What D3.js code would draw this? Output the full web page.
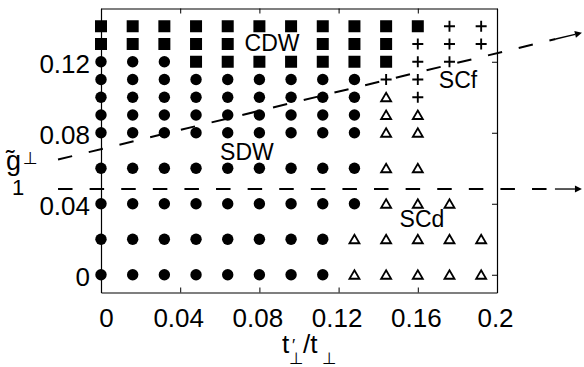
<!DOCTYPE html>
<html>
<head>
<meta charset="utf-8">
<script src="https://cdn.jsdelivr.net/npm/d3@7"></script>
<style>
  body { margin: 0; background: #fff; }
  svg { display: block; font-family: "Liberation Sans", Arial, sans-serif; }
</style>
</head>
<body>
<script>
"use strict"

// grid of t'/t values (columns) and g1 values (rows)
var colX = [0, 0.016, 0.032, 0.048, 0.064, 0.08, 0.096, 0.112, 0.128, 0.144, 0.16, 0.176, 0.192];
var rowY = [0.14, 0.13, 0.12, 0.11, 0.10, 0.09, 0.08, 0.06, 0.04, 0.02, 0];
// phase per point, one string per row: S = CDW square, C = SDW circle,
// P = SCf plus, T = SCd triangle, . = no point
var rowPhases = [
  "SSSSSSSSSSSPP",
  "SSSSS..SSSPPP",
  "CCCSSSSSSSPP.",
  "CCCCCCCCCPP..",
  "CCCCCCCCCTP..",
  "CCCCCCCCCTT..",
  "CCCCCCCCCTT..",
  "CCCCCCCCCTT..",
  "CCCCCCCCCTTT.",
  "CCCCCCCCTTTTT",
  "CCCCCCCCTTTTT"
];

var xTicks = [0, 0.04, 0.08, 0.12, 0.16, 0.2];
var xTickLabels = ["0", "0.04", "0.08", "0.12", "0.16", "0.2"];
var yTicks = [0, 0.04, 0.08, 0.12];
var yTickLabels = ["0", "0.04", "0.08", "0.12"];

var phaseNames = ["CDW", "SDW", "SCf", "SCd"];
var phaseLabelX = [0.0864, 0.0737, 0.1803, 0.1621];
var phaseLabelY = [0.1306, 0.0694, 0.1097, 0.0314];

// dashed boundary arrows (start x, start y, end x, end y in data units)
var boundaryX0 = [-0.0217, -0.0217];
var boundaryY0 = [0.0649, 0.0483];
var boundaryX1 = [0.2429, 0.2429];
var boundaryY1 = [0.1364, 0.0483];

var width = 584, height = 367;
var perpFont = "'DejaVu Sans', sans-serif";

var svgContainer = d3.select("body").append("svg")
                                    .attr("width", width)
                                    .attr("height", height);

svgContainer.append("rect").attr("width", width).attr("height", height).attr("fill", "#fff");

var x = d3.scaleLinear().domain([0, 0.2]).range([101, 497]);
var y = d3.scaleLinear().domain([-0.01, 0.15]).range([292.5, 8.5]);

// build point list from the arrays
var points = [];
rowPhases.forEach(function(row, i) {
    row.split("").forEach(function(code, j) {
        if (code !== ".") points.push({x: colX[j], y: rowY[i], phase: code});
    });
});

// axes: ticks point inward on all four sides
var tickFont = 26;
var bottomAxis = d3.axisBottom(x).tickValues(xTicks)
                   .tickFormat(function(d, i) { return xTickLabels[i]; })
                   .tickSizeInner(-5).tickSizeOuter(0).tickPadding(16);
var topAxis = d3.axisTop(x).tickValues(xTicks).tickFormat("")
                .tickSizeInner(-5).tickSizeOuter(0);
var leftAxis = d3.axisLeft(y).tickValues(yTicks)
                 .tickFormat(function(d, i) { return yTickLabels[i]; })
                 .tickSizeInner(-5).tickSizeOuter(0).tickPadding(11);
var rightAxis = d3.axisRight(y).tickValues(yTicks).tickFormat("")
                  .tickSizeInner(-5).tickSizeOuter(0);

function styleAxis(g) {
    g.select(".domain").attr("stroke", "#000").attr("stroke-width", 1.2);
    g.selectAll(".tick line").attr("stroke", "#000").attr("stroke-width", 1);
    g.selectAll(".tick text").attr("fill", "#000")
     .attr("font-size", tickFont)
     .attr("font-family", "Liberation Sans, Arial, sans-serif");
}

svgContainer.append("g").attr("transform", "translate(0," + y.range()[0] + ")")
            .call(bottomAxis).call(styleAxis)
            .selectAll(".tick text").attr("dx", function(d) { return d === 0 ? "5" : "-2"; });
svgContainer.append("g").attr("transform", "translate(0," + y.range()[1] + ")")
            .call(topAxis).call(styleAxis);
svgContainer.append("g").attr("transform", "translate(" + x.range()[0] + ",0)")
            .call(leftAxis).call(styleAxis)
            .selectAll(".tick text").attr("dy", "0.4em");
svgContainer.append("g").attr("transform", "translate(" + x.range()[1] + ",0)")
            .call(rightAxis).call(styleAxis);

// markers
var marks = svgContainer.append("g");

marks.selectAll("circle").data(points.filter(function(d) { return d.phase === "C"; }))
     .enter().append("circle")
     .attr("cx", function(d) { return x(d.x); })
     .attr("cy", function(d) { return y(d.y); })
     .attr("r", 5.7)
     .attr("fill", "#000");

var sq = 12;
marks.selectAll("rect.cdw").data(points.filter(function(d) { return d.phase === "S"; }))
     .enter().append("rect").attr("class", "cdw")
     .attr("x", function(d) { return x(d.x) - sq / 2; })
     .attr("y", function(d) { return y(d.y) - sq / 2; })
     .attr("width", sq)
     .attr("height", sq)
     .attr("fill", "#000");

marks.selectAll("path.scf").data(points.filter(function(d) { return d.phase === "P"; }))
     .enter().append("path").attr("class", "scf")
     .attr("transform", function(d) { return "translate(" + x(d.x) + "," + y(d.y) + ")"; })
     .attr("d", "M-5.5,0H5.5M0,-5.5V5.5")
     .attr("stroke", "#000")
     .attr("stroke-width", 1.9)
     .attr("fill", "none");

marks.selectAll("path.scd").data(points.filter(function(d) { return d.phase === "T"; }))
     .enter().append("path").attr("class", "scd")
     .attr("transform", function(d) { return "translate(" + x(d.x) + "," + y(d.y) + ")"; })
     .attr("d", "M0,-4.5L5,4L-5,4Z")
     .attr("stroke", "#000")
     .attr("stroke-width", 1.8)
     .attr("stroke-linejoin", "miter")
     .attr("fill", "#fff");

// phase labels
svgContainer.selectAll("text.phase").data(phaseNames)
            .enter().append("text").attr("class", "phase")
            .attr("x", function(d, i) { return x(phaseLabelX[i]); })
            .attr("y", function(d, i) { return y(phaseLabelY[i]); })
            .attr("dy", "0.36em")
            .attr("text-anchor", "middle")
            .attr("font-size", 23)
            .attr("fill", "#000")
            .text(function(d) { return d; });

// dashed boundary lines with arrow heads
var arrowLen = 27, headLen = 7, headHalf = 3.5;
boundaryX0.forEach(function(d, i) {
    var sx = x(boundaryX0[i]), sy = y(boundaryY0[i]);
    var ex = x(boundaryX1[i]), ey = y(boundaryY1[i]);
    var len = Math.hypot(ex - sx, ey - sy);
    var ux = (ex - sx) / len, uy = (ey - sy) / len;
    var tx = ex - ux * arrowLen, ty = ey - uy * arrowLen;
    var hx = ex - ux * headLen, hy = ey - uy * headLen;

    svgContainer.append("line")
                .attr("x1", sx).attr("y1", sy)
                .attr("x2", tx).attr("y2", ty)
                .attr("stroke", "#000")
                .attr("stroke-width", 2)
                .attr("stroke-dasharray", "14.5,17.1");
    svgContainer.append("line")
                .attr("x1", tx).attr("y1", ty)
                .attr("x2", hx).attr("y2", hy)
                .attr("stroke", "#000")
                .attr("stroke-width", 1.3);
    svgContainer.append("path")
                .attr("d", "M" + ex + "," + ey +
                           "L" + (hx - uy * headHalf) + "," + (hy + ux * headHalf) +
                           "L" + (hx + uy * headHalf) + "," + (hy - ux * headHalf) + "Z")
                .attr("fill", "#000");
});

// x axis label: t'_perp / t_perp
var xl = svgContainer.append("g").attr("opacity", 0.999);
xl.append("text").attr("x", 282).attr("y", 353).attr("font-size", 26)
  .attr("fill", "#000").text("t");
xl.append("text").attr("x", 292).attr("y", 351).attr("font-size", 17)
  .attr("fill", "#000").text("\u2032");
xl.append("text").attr("x", 289).attr("y", 364).attr("font-size", 16.5)
  .attr("font-family", perpFont).attr("fill", "#000").text("\u22A5");
xl.append("text").attr("x", 303).attr("y", 353).attr("font-size", 26)
  .attr("fill", "#000").text("/t");
xl.append("text").attr("x", 322).attr("y", 364).attr("font-size", 16.5)
  .attr("font-family", perpFont).attr("fill", "#000").text("\u22A5");

// y axis label: g~_1^perp
var yl = svgContainer.append("g").attr("opacity", 0.999);
yl.append("text").attr("x", 6).attr("y", 170).attr("font-size", 27)
  .attr("fill", "#000").text("g");
yl.append("text").attr("x", 6).attr("y", 168).attr("font-size", 26)
  .attr("fill", "#000").text("\u02DC");
yl.append("text").attr("x", 23).attr("y", 164).attr("font-size", 17)
  .attr("font-family", perpFont).attr("fill", "#000").text("\u22A5");
yl.append("text").attr("x", 12).attr("y", 195).attr("font-size", 22)
  .attr("fill", "#000").text("1");
</script>
</body>
</html>
